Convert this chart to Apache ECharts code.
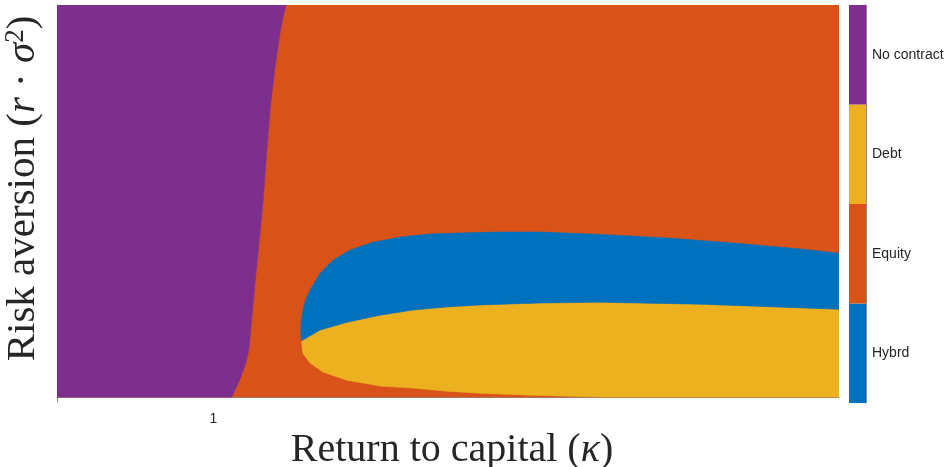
<!DOCTYPE html>
<html>
<head>
<meta charset="utf-8">
<script src="https://cdn.jsdelivr.net/npm/echarts@6/dist/echarts.min.js"></script>
<style>
  html, body { margin: 0; padding: 0; background: #fff; }
  #chart { width: 944px; height: 467px; }
</style>
</head>
<body>
<div id="chart"></div>
<script>
// Parameter ranges of the contract-choice map
const kappaRange = [0.5, 3];
const riskRange = [0, 1];
const kappaTicks = [1];

// Contract types, bottom to top of the colour bar
const contractTypes = ['Hybrd', 'Equity', 'Debt', 'No contract'];
const contractColors = ['#0072BD', '#D95319', '#EDB120', '#7E2F8E'];

// Boundary between "No contract" (left) and "Equity", from top to bottom: [kappa, r*sigma^2]
const noContractEdge = [
  [1.232, 1.000], [1.223, 0.970], [1.213, 0.929], [1.197, 0.842],
  [1.181, 0.732], [1.171, 0.630], [1.159, 0.503], [1.149, 0.418],
  [1.133, 0.291], [1.123, 0.204], [1.117, 0.150], [1.113, 0.120],
  [1.106, 0.094], [1.096, 0.069], [1.080, 0.036], [1.068, 0.017],
  [1.059, 0.000]
];

// Upper edge of the "Hybrd" region, from its tip to the right edge
const hybridUpperEdge = [
  [1.282, 0.144], [1.279, 0.163], [1.280, 0.191], [1.286, 0.222],
  [1.296, 0.250], [1.309, 0.273], [1.341, 0.316], [1.382, 0.349],
  [1.437, 0.375], [1.510, 0.395], [1.597, 0.408], [1.692, 0.416],
  [1.811, 0.419], [1.916, 0.421], [2.044, 0.421], [2.236, 0.415],
  [2.450, 0.406], [2.661, 0.393], [2.875, 0.378], [3.000, 0.367]
];

// Edge between "Hybrd" (above) and "Debt" (below), from the tip to the right edge
const hybridDebtEdge = [
  [1.282, 0.144], [1.341, 0.171], [1.427, 0.191], [1.533, 0.209],
  [1.638, 0.222], [1.747, 0.230], [1.852, 0.235], [2.044, 0.240],
  [2.236, 0.242], [2.556, 0.237], [3.000, 0.224]
];

// Lower edge of the "Debt" region, from the tip to where it reaches the bottom
const debtLowerEdge = [
  [1.282, 0.141], [1.286, 0.112], [1.309, 0.087], [1.350, 0.064],
  [1.427, 0.043], [1.533, 0.028], [1.638, 0.023], [1.747, 0.015],
  [1.852, 0.010], [2.012, 0.005], [2.236, 0.000]
];

// Region outlines built from the edges above
const [kMin, kMax] = kappaRange;
const [rMin, rMax] = riskRange;
const equityRegion = [[kMin, rMin], [kMax, rMin], [kMax, rMax], [kMin, rMax]];
const noContractRegion = [[kMin, rMax]].concat(noContractEdge, [[kMin, rMin]]);
const debtRegion = hybridDebtEdge.concat([[kMax, rMin]], debtLowerEdge.slice().reverse());
const hybridRegion = hybridUpperEdge.concat(hybridDebtEdge.slice().reverse());

const regions = [
  { name: 'Equity', pts: equityRegion, color: contractColors[1] },
  { name: 'No contract', pts: noContractRegion, color: contractColors[3] },
  { name: 'Debt', pts: debtRegion, color: contractColors[2] },
  { name: 'Hybrd', pts: hybridRegion, color: contractColors[0] }
];

const axisGray = '#8c8c8c';
const textColor = '#262626';
const serif = 'Liberation Serif';

const chart = echarts.init(document.getElementById('chart'), null, { renderer: 'canvas' });

const regionSeries = regions.map(function (reg) {
  return {
    type: 'custom',
    name: reg.name,
    xAxisIndex: 0,
    yAxisIndex: 0,
    clip: true,
    silent: true,
    data: reg.pts,
    renderItem: function (params, api) {
      if (params.dataIndex !== 0) return null;
      return {
        type: 'polygon',
        shape: { points: reg.pts.map(function (p) { return api.coord(p); }), smooth: 0 },
        style: { fill: reg.color, stroke: reg.color, lineWidth: 0.6 }
      };
    }
  };
});

// Colour bar: one stacked block per contract type
const colorBarSeries = contractTypes.map(function (name, i) {
  return {
    type: 'bar',
    name: name,
    xAxisIndex: 1,
    yAxisIndex: 1,
    stack: 'bar',
    barWidth: '100%',
    silent: true,
    data: [1],
    itemStyle: { color: contractColors[i] }
  };
});

const option = {
  animation: false,
  backgroundColor: '#ffffff',
  grid: [
    { left: 57, right: 105, top: 5, bottom: 65, containLabel: false, outerBoundsMode: 'none' },
    { left: 849, width: 17, top: 5, height: 398, containLabel: false, outerBoundsMode: 'none' }
  ],
  xAxis: [
    {
      type: 'value',
      gridIndex: 0,
      min: kMin,
      max: kMax,
      name: '{t|Return to capital (}{i|κ}{t|)}',
      nameLocation: 'middle',
      nameGap: 22,
      nameTextStyle: {
        padding: [0, 0, 0, 8],
        rich: {
          t: { fontFamily: serif, fontSize: 40, color: textColor },
          i: { fontFamily: serif, fontStyle: 'italic', fontSize: 40, color: textColor }
        }
      },
      axisLine: { show: true, lineStyle: { color: axisGray, width: 1 } },
      axisTick: { show: true, inside: true, length: 5, customValues: kappaTicks, lineStyle: { color: axisGray } },
      axisLabel: {
        show: true, customValues: kappaTicks, margin: 10,
        fontFamily: 'Liberation Sans', fontSize: 14, color: textColor
      },
      splitLine: { show: false }
    },
    {
      type: 'category',
      gridIndex: 1,
      data: ['bar'],
      axisLine: { show: false },
      axisTick: { show: false },
      axisLabel: { show: false }
    }
  ],
  yAxis: [
    {
      type: 'value',
      gridIndex: 0,
      min: -0.0125,
      max: rMax,
      name: '{t|Risk aversion (}{i|r}{t| · }{i|σ}{s|2}{t|)}',
      nameLocation: 'middle',
      nameGap: 12,
      nameRotate: 90,
      nameTextStyle: {
        padding: [0, 0, 0, 30],
        rich: {
          t: { fontFamily: serif, fontSize: 41, color: textColor },
          i: { fontFamily: serif, fontStyle: 'italic', fontSize: 41, color: textColor },
          s: { fontFamily: serif, fontSize: 27, color: textColor, verticalAlign: 'top', padding: [0, 0, 16, 0] }
        }
      },
      axisLine: { show: true, lineStyle: { color: axisGray, width: 1 } },
      axisTick: { show: false },
      axisLabel: { show: false },
      splitLine: { show: false }
    },
    {
      type: 'value',
      gridIndex: 1,
      position: 'right',
      min: 0,
      max: contractTypes.length,
      axisLine: { show: true, lineStyle: { color: axisGray, width: 1 } },
      axisTick: {
        show: true, inside: true, length: 3,
        customValues: contractTypes.map(function (_, i) { return i + 0.5; }),
        lineStyle: { color: '#555' }
      },
      axisLabel: {
        show: true, margin: 6,
        customValues: contractTypes.map(function (_, i) { return i + 0.5; }),
        formatter: function (v) { return contractTypes[Math.floor(v)]; },
        fontFamily: 'Liberation Sans', fontSize: 14, color: textColor
      },
      splitLine: { show: false }
    }
  ],
  series: regionSeries.concat(colorBarSeries)
};

chart.setOption(option);
</script>
</body>
</html>
